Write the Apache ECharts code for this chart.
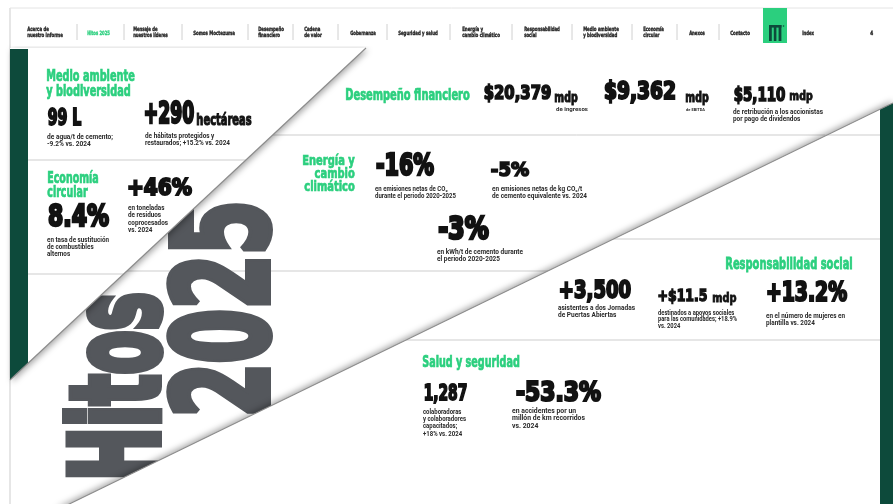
<!DOCTYPE html>
<html>
<head>
<meta charset="utf-8">
<script src="https://cdn.jsdelivr.net/npm/echarts@6/dist/echarts.min.js"></script>
<style>
  html, body { margin: 0; padding: 0; background: #fff; }
  #main { width: 893px; height: 504px; }
</style>
</head>
<body>
<div id="main"></div>
<script>
// ---- data ----
const navItems = [
  ['Acerca de', 'nuestro informe'],
  ['Hitos 2025'],
  ['Mensaje de', 'nuestros líderes'],
  ['Somos Moctezuma'],
  ['Desempeño', 'financiero'],
  ['Cadena', 'de valor'],
  ['Gobernanza'],
  ['Seguridad y salud'],
  ['Energía y', 'cambio climático'],
  ['Responsabilidad', 'social'],
  ['Medio ambiente', 'y biodiversidad'],
  ['Economía', 'circular'],
  ['Anexos'],
  ['Contacto']
];
const navExtra = ['Index', '4'];
const activeNav = 1;

const sectionTitles = [
  ['Medio ambiente', 'y biodiversidad'],
  ['Economía', 'circular'],
  ['Desempeño financiero'],
  ['Energía y', 'cambio', 'climático'],
  ['Responsabilidad social'],
  ['Salud y seguridad']
];

const kpiValues = ['99 L', '+290', '+46%', '8.4%', '$20,379', '$9,362', '$5,110', '-16%', '-5%', '-3%', '+3,500', '+$11.5', '+13.2%', '1,287', '-53.3%'];
const kpiUnits = ['', 'hectáreas', '', '', 'mdp', 'mdp', 'mdp', '', '', '', '', 'mdp', '', '', ''];
const kpiNotes = [
  ['de agua/t de cemento;', '-9.2% vs. 2024'],
  ['de hábitats protegidos y', 'restaurados; +15.2% vs. 2024'],
  ['en toneladas', 'de residuos', 'coprocesados', 'vs. 2024'],
  ['en tasa de sustitución', 'de combustibles', 'alternos'],
  ['de ingresos'],
  ['de EBITDA'],
  ['de retribución a los accionistas', 'por pago de dividendos'],
  ['en emisiones netas de CO₂', 'durante el periodo 2020-2025'],
  ['en emisiones netas de kg CO₂/t', 'de cemento equivalente vs. 2024'],
  ['en kWh/t de cemento durante', 'el periodo 2020-2025'],
  ['asistentes a dos Jornadas', 'de Puertas Abiertas'],
  ['destinados a apoyos sociales', 'para las comunidades; +18.9%', 'vs. 2024'],
  ['en el número de mujeres en', 'plantilla vs. 2024'],
  ['colaboradoras', 'y colaboradores', 'capacitados;', '+18% vs. 2024'],
  ['en accidentes por un', 'millón de km recorridos', 'vs. 2024']
];
const coverTitle = ['Hitos', '2025'];

// ---- styles ----
const GREEN = '#2bcf7e';
const DARK = '#0d4a3b';
const INK = '#121212';
const BODY = '#2a2a2a';
const GREY = '#54575c';
const RULE = '#cdcdcd';
const HEAVY = '"DejaVu Sans Condensed", "DejaVu Sans", sans-serif';
const SANS = 'Roboto, "DejaVu Sans", sans-serif';

// fold lines
const fold1 = [[366, 48], [10, 380]];
const fold2 = [[893, 103], [57, 510]];
function foldX1(y) { return 366 - (y - 48) * 356 / 332; }

const cv = document.createElement('canvas').getContext('2d');
function metrics(str, weight, size, family) {
  cv.font = weight + ' ' + size + 'px ' + family;
  cv.textBaseline = 'middle';
  return cv.measureText(str);
}

// text lines fitted into a box: cap top, cap height, widest line width
function fitLines(lines, left, top, w, h, step, o) {
  o = o || {};
  const family = o.family || HEAVY;
  const weight = o.weight || 'bold';
  const ref = o.ref || 'H';
  const lw = o.lw || 0;
  const color = o.color || INK;
  const align = o.align || 'left';
  const r = metrics(ref, weight, 100, family);
  const capRatio = (r.actualBoundingBoxAscent + r.actualBoundingBoxDescent) / 100;
  const size = (h - lw) / capRatio;
  const asc = metrics(ref, weight, size, family).actualBoundingBoxAscent;
  let widest = 0;
  lines.forEach(function (t) { widest = Math.max(widest, metrics(t, weight, size, family).width); });
  const sx = w / (widest + lw);
  const ax = align === 'right' ? left - lw / 2 * sx : left + lw / 2 * sx;
  return lines.map(function (t, i) {
    return {
      type: 'text', silent: true, z: o.z || 0,
      x: ax, y: top + asc + lw / 2 + i * step, scaleX: sx, rotation: 0,
      style: {
        text: t, fontSize: size, fontFamily: family, fontWeight: weight,
        fill: color, align: align, verticalAlign: 'middle',
        stroke: lw ? color : null, lineWidth: lw, lineJoin: 'round'
      }
    };
  });
}

// rotated 90deg, reading bottom to top
function fitUp(str, capLeft, startY, len, h, o) {
  const family = o.family || HEAVY, weight = o.weight || 'bold', lw = o.lw || 0;
  const r = metrics('H', weight, 100, family);
  const capRatio = (r.actualBoundingBoxAscent + r.actualBoundingBoxDescent) / 100;
  const size = (h - lw) / capRatio;
  const asc = metrics('H', weight, size, family).actualBoundingBoxAscent;
  const sx = len / (metrics(str, weight, size, family).width + lw);
  return {
    type: 'text', silent: true, z: o.z || 0,
    x: capLeft + asc + lw / 2, y: startY - lw / 2 * sx, scaleX: sx, rotation: Math.PI / 2,
    style: {
      text: str, fontSize: size, fontFamily: family, fontWeight: weight,
      fill: o.color, align: 'left', verticalAlign: 'middle',
      stroke: lw ? o.color : null, lineWidth: lw, lineJoin: 'round'
    }
  };
}

function para(lines, left, yc, w, step, size, z) {
  let widest = 0;
  lines.forEach(function (t) { widest = Math.max(widest, metrics(t, 'bold', size, SANS).width); });
  const sx = w / widest;
  return lines.map(function (t, i) {
    return {
      type: 'text', silent: true, z: z,
      x: left, y: yc + i * step, scaleX: sx,
      style: { text: t, fontSize: size, fontFamily: SANS, fontWeight: 'bold', fill: BODY, align: 'left', verticalAlign: 'middle' }
    };
  });
}

function hline(x1, x2, y, z, color) {
  return { type: 'line', silent: true, z: z, shape: { x1: x1, y1: y, x2: x2, y2: y }, style: { stroke: color || RULE, lineWidth: 1 } };
}

// ---- layout ----
const navLeft = [27, 87, 133, 193, 258, 304, 350, 398, 462, 524, 583, 643, 689, 730];
const navWidth = [36, 23, 35, 42, 26, 18, 26, 40, 38, 36, 36, 21, 16, 20];
const navSep = [77, 124, 182, 248, 293, 338, 387, 450, 512, 572, 632, 677, 719];

// [left, capTop, widest width, cap height, line step, align, layer]
const titleBox = [
  [46, 69, 89, 12, 14.5, 'left', 'top'],
  [47, 171, 52, 12, 14, 'left', 'top'],
  [345, 88, 125, 12, 0, 'left', 'mid'],
  [355, 155, 53, 11.5, 12.6, 'right', 'mid'],
  [725, 257, 128, 13, 0, 'left', 'low'],
  [422, 355, 98, 12, 0, 'left', 'low']
];
// [left, digit top, width, digit height, layer]
const kpiBox = [
  [47, 107, 35, 19, 'top'],
  [143, 100, 52, 26, 'top'],
  [126, 177, 67, 20, 'top'],
  [47, 203, 63, 25, 'top'],
  [483, 84, 69, 17, 'mid'],
  [603, 80, 74, 21, 'mid'],
  [733, 86, 53, 16, 'mid'],
  [375, 152, 60, 25, 'mid'],
  [490, 161, 40, 16, 'mid'],
  [437, 215, 53, 27, 'mid'],
  [558, 279, 74, 21, 'low'],
  [657, 288, 51, 14, 'low'],
  [765, 280, 83, 22, 'low'],
  [423, 383, 45, 18, 'low'],
  [515, 380, 87, 22, 'low']
];
// unit boxes: [left, ascender top, width, ascender height]
const unitBox = {
  1: [196, 112, 56, 14],
  4: [554, 91, 24, 12],
  5: [685, 91, 24, 12],
  6: [789, 90, 24, 11],
  11: [712, 292, 25, 10]
};
// [left, first line centre, widest width, line step, font size]
const noteBox = [
  [47, 137, 66, 7.3, 6.3],
  [145, 136, 85, 7.3, 6.3],
  [128, 208, 40, 7.5, 6.3],
  [47, 240, 62, 7.2, 6.3],
  [556, 109.5, 32, 0, 4.6],
  [686, 110, 19, 0, 4.2],
  [733, 112, 90, 7.5, 6.3],
  [375, 189, 81, 7.2, 6.3],
  [492, 189, 95, 7.2, 6.3],
  [437, 252, 86, 7.2, 6.3],
  [558, 308, 77, 7.5, 6.3],
  [658, 313, 79, 6.7, 6.3],
  [766, 316, 79, 7, 6.3],
  [423, 412, 43, 7.4, 6.3],
  [512, 411, 73, 7.6, 6.3]
];
const layerZ = { mid: 4, top: 12, low: 12 };

function buildGraphic() {
  let g = [];
  g.push({ type: 'rect', silent: true, z: 0, shape: { x: 0, y: 0, width: 893, height: 504 }, style: { fill: '#fff' } });

  // middle band
  g.push(hline(foldX1(135), 880, 135, 2));
  g.push(hline(10, 570, 271, 2));
  g.push({ type: 'line', silent: true, z: 2, shape: { x1: 10, y1: 8, x2: 10, y2: 504 }, style: { stroke: RULE, lineWidth: 1 } });
  g.push(fitUp(coverTitle[0], 65, 483, 193, 97, { color: GREY, lw: 8, z: 3 }));
  g.push(fitUp(coverTitle[1], 167, 420, 222, 103, { color: GREY, lw: 8, z: 3 }));

  // upper-left flap
  g.push({
    type: 'polygon', silent: true, z: 10,
    shape: { points: [[10, 48], fold1[0], fold1[1]] },
    style: { fill: '#fff', shadowColor: 'rgba(0,0,0,0.35)', shadowBlur: 6, shadowOffsetX: 2, shadowOffsetY: 2 }
  });
  g.push({
    type: 'polygon', silent: true, z: 11,
    shape: { points: [[10, 49], [28, 49], [28, 48 + (366 - 28) * 332 / 356], [10, 380]] },
    style: { fill: DARK }
  });
  g.push(hline(28, foldX1(160), 160, 11));
  g.push(hline(28, foldX1(274), 274, 11));

  // lower flap
  g.push({
    type: 'polygon', silent: true, z: 10,
    shape: { points: [fold2[0], [893, 510], fold2[1]] },
    style: { fill: '#fff', shadowColor: 'rgba(0,0,0,0.35)', shadowBlur: 6, shadowOffsetX: -1, shadowOffsetY: -2 }
  });
  g.push({
    type: 'polygon', silent: true, z: 11,
    shape: { points: [[880, 103 + 13 * 407 / 836], [893, 103], [893, 504], [880, 504]] },
    style: { fill: DARK }
  });
  g.push(hline(825, 880, 135, 11));
  g.push(hline(612, 880, 239, 11));
  g.push(hline(404, 880, 340, 11));

  // fold creases
  [fold1, fold2].forEach(function (f) {
    g.push({ type: 'line', silent: true, z: 15, shape: { x1: f[0][0], y1: f[0][1], x2: f[1][0], y2: f[1][1] }, style: { stroke: '#8c8c8c', lineWidth: 1.1 } });
  });

  // section titles
  sectionTitles.forEach(function (lines, i) {
    const b = titleBox[i];
    g = g.concat(fitLines(lines, b[0], b[1], b[2], b[3], b[4], { color: GREEN, lw: b[3] * 0.06, align: b[5], z: layerZ[b[6]] }));
  });

  // KPI values, units, notes
  kpiValues.forEach(function (v, i) {
    const b = kpiBox[i];
    const z = layerZ[b[4]];
    g = g.concat(fitLines([v], b[0], b[1], b[2], b[3], 0, { ref: '0', lw: b[3] * 0.1, z: z }));
    if (kpiUnits[i]) {
      const u = unitBox[i];
      g = g.concat(fitLines([kpiUnits[i]], u[0], u[1], u[2], u[3], 0, { ref: 'd', lw: u[3] * 0.08, z: z }));
    }
    const n = noteBox[i];
    g = g.concat(para(kpiNotes[i], n[0], n[1], n[2], n[3], n[4], z));
  });

  // navigation bar
  g.push({ type: 'rect', silent: true, z: 19, shape: { x: 11, y: 0, width: 882, height: 46 }, style: { fill: '#fff' } });
  g.push(hline(10, 893, 8, 20, '#e4e4e4'));
  navSep.forEach(function (x) {
    g.push({ type: 'line', silent: true, z: 20, shape: { x1: x, y1: 24, x2: x, y2: 40 }, style: { stroke: '#c4c4c4', lineWidth: 0.8 } });
  });
  navItems.forEach(function (lines, i) {
    const top = lines.length > 1 ? 26 : 30;
    g = g.concat(fitLines(lines, navLeft[i], top, navWidth[i], 4.6, 6, { color: i === activeNav ? GREEN : '#1e1e1e', lw: 0.35, z: 21 }));
  });
  g = g.concat(fitLines([navExtra[0]], 802, 30, 12, 4.6, 0, { color: '#1e1e1e', lw: 0.35, z: 21 }));
  g = g.concat(fitLines([navExtra[1]], 870, 30, 3.2, 4.6, 0, { color: '#1e1e1e', lw: 0.35, z: 21 }));
  g.push({ type: 'rect', silent: true, z: 21, shape: { x: 763, y: 8, width: 24, height: 35 }, style: { fill: GREEN } });
  [[769, 25, 12.5, 2.6], [769, 25, 2.8, 16], [773.8, 25, 2.6, 16], [778.6, 25, 2.8, 16]].forEach(function (r) {
    g.push({ type: 'rect', silent: true, z: 22, shape: { x: r[0], y: r[1], width: r[2], height: r[3] }, style: { fill: DARK } });
  });
  g.push({ type: 'circle', silent: true, z: 22, shape: { cx: 783.5, cy: 26, r: 0.8 }, style: { fill: DARK } });

  return g;
}

const chart = echarts.init(document.getElementById('main'), null, { renderer: 'canvas' });
chart.setOption({
  backgroundColor: '#fff',
  animation: false,
  graphic: { elements: buildGraphic() }
});
window.addEventListener('resize', function () { chart.resize(); });
</script>
</body>
</html>
